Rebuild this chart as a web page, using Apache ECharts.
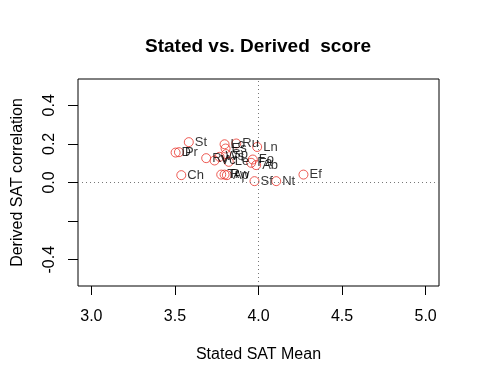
<!DOCTYPE html>
<html><head><meta charset="utf-8">
<script src="https://cdn.jsdelivr.net/npm/echarts@6/dist/echarts.min.js"></script>
<style>html,body{margin:0;padding:0;background:#fff}#c{width:480px;height:384px}</style>
</head><body><div id="c"></div>
<script>
var labels = ["St","D","Pr","Rv","Vc","Ws","Lc","Es","Sp","Le","Ru","Ln","Fo","Fa","Ab","Ch","Tr","Rw","Ap","Sf","Nt","Ef"];
var statedMean = [3.583,3.504,3.524,3.687,3.737,3.767,3.797,3.803,3.806,3.822,3.867,3.992,3.966,3.956,3.986,3.538,3.777,3.797,3.811,3.976,4.106,4.269];
var derivedCorr = [0.209,0.155,0.157,0.126,0.114,0.133,0.198,0.176,0.147,0.107,0.202,0.184,0.119,0.102,0.090,0.038,0.041,0.041,0.038,0.007,0.007,0.041];
var xTicks = [3.0,3.5,4.0,4.5,5.0];
var yTicks = [-0.4,-0.2,0.0,0.2,0.4];
var yTickLabels = ["-0.4","","0.0","0.2","0.4"];

var data = labels.map(function(l,i){return {value:[statedMean[i],derivedCorr[i]], name:l};});
var font = "'Liberation Sans', Arial, sans-serif";
var chart = echarts.init(document.getElementById('c'));
chart.setOption({
  animation:false,
  title:{text:"Stated vs. Derived  score", left:140, top:32,
    textStyle:{fontFamily:font,fontSize:19,fontWeight:'bold',color:'#000'}},
  grid:{left:78,right:41,top:79,bottom:98,show:true,borderColor:'#000',borderWidth:1,backgroundColor:'transparent'},
  xAxis:{type:'value',min:2.92,max:5.08,
    name:"Stated SAT Mean",nameLocation:'middle',nameGap:61,
    nameTextStyle:{fontFamily:font,fontSize:16,color:'#000'},
    axisLine:{show:false,onZero:false},splitLine:{show:false},
    axisTick:{show:true,length:9,inside:false,customValues:xTicks,lineStyle:{color:'#000'}},
    axisLabel:{customValues:xTicks,fontFamily:font,fontSize:16,color:'#000',margin:23,
      formatter:function(v){return v.toFixed(1);}}},
  yAxis:{type:'value',min:-0.536,max:0.536,
    name:"Derived SAT correlation",nameLocation:'middle',nameGap:52,nameRotate:90,
    nameTextStyle:{fontFamily:font,fontSize:16,color:'#000'},
    axisLine:{show:false,onZero:false},splitLine:{show:false},
    axisTick:{show:true,length:10,customValues:yTicks,lineStyle:{color:'#000'}},
    axisLabel:{customValues:yTicks,rotate:90,fontFamily:font,fontSize:16,color:'#000',margin:20,
      formatter:function(v){var i=-1;for(var k=0;k<yTicks.length;k++){if(Math.abs(yTicks[k]-v)<1e-6)i=k;}return i>=0?yTickLabels[i]:'';}}},
  series:[{type:'scatter',data:data,symbol:'circle',symbolSize:9,
    itemStyle:{color:'transparent',borderColor:'#e8332a',borderWidth:1},
    label:{show:true,position:'right',distance:1,formatter:'{b}',fontFamily:font,fontSize:13,color:'#000'},
    markLine:{silent:true,symbol:'none',label:{show:false},
      lineStyle:{color:'#777',type:[1,3],width:1},
      data:[{xAxis:4.0},{yAxis:0}]}}]
});
</script></body></html>
